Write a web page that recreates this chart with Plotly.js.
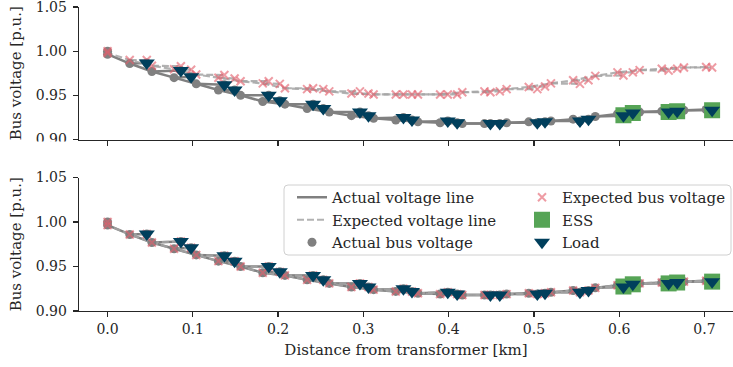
<!DOCTYPE html>
<html><head><meta charset="utf-8">
<script src="https://cdn.plot.ly/plotly-3.0.1.min.js"></script>
<style>html,body{margin:0;padding:0;background:#fff}</style>
</head><body><div id="chart" style="width:733px;height:367px"></div>
<script>
// transformer bus
const trafoX = [0.0];
const trafoV = [1.000];
const trafoExpTop = [1.000];
// main feeder buses
const mainX = [0.000,0.026,0.052,0.078,0.104,0.130,0.156,0.182,0.208,0.234,0.260,0.286,0.312,0.338,0.364,0.390,0.416,0.442,0.468,0.494,0.520,0.546,0.572,0.598,0.624,0.650,0.676,0.702];
const mainActual = [0.9965,0.986,0.977,0.970,0.963,0.956,0.950,0.943,0.940,0.935,0.931,0.927,0.924,0.922,0.920,0.919,0.918,0.918,0.919,0.920,0.921,0.923,0.926,0.929,0.931,0.932,0.933,0.934];
const mainExpTop = [0.998,0.990,0.9835,0.9795,0.9735,0.970,0.966,0.9635,0.958,0.957,0.9545,0.952,0.951,0.951,0.951,0.951,0.9535,0.9545,0.957,0.9595,0.9635,0.967,0.972,0.976,0.9785,0.980,0.9815,0.982];
// load buses (branch from a main bus)
const loadX = [0.046,0.086,0.098,0.137,0.149,0.189,0.202,0.241,0.253,0.296,0.306,0.347,0.357,0.399,0.410,0.449,0.460,0.504,0.513,0.554,0.564,0.605,0.616,0.658,0.668,0.709];
const loadParent = [1,2,3,4,5,6,7,8,9,10,11,12,13,14,15,16,17,18,19,20,21,22,23,24,25,26];
const loadActual = [0.9865,0.978,0.971,0.962,0.956,0.950,0.944,0.940,0.935,0.931,0.927,0.925,0.922,0.921,0.919,0.918,0.918,0.919,0.920,0.921,0.923,0.927,0.930,0.931,0.932,0.933];
const loadExpTop = [0.990,0.983,0.979,0.973,0.969,0.966,0.963,0.958,0.957,0.9545,0.952,0.951,0.951,0.951,0.951,0.9535,0.9545,0.957,0.960,0.963,0.967,0.9725,0.976,0.978,0.980,0.9815];
// ESS buses
const essX = [0.605,0.616,0.658,0.668,0.709];
const essV = [0.9275,0.930,0.931,0.932,0.933];
// bottom panel: expected equals actual
const trafoExpBot = trafoV;
const mainExpBot = mainActual;
const loadExpBot = loadActual;

function lineXY(tV, mV, lV){
  const x = [trafoX[0]].concat(mainX), y = [tV[0]].concat(mV);
  loadX.forEach((lx,i)=>{ const p = loadParent[i]; x.push(null, mainX[p], lx); y.push(null, mV[p], lV[i]); });
  return {x, y};
}
const allX = trafoX.concat(mainX, loadX);
const GRAY = '#808080', NAVY = '#003f5c', GREEN = '#56a456', RED = 'rgba(228,95,108,0.62)';

function panel(ya, tV, mV, lV, tE, mE, lE, leg){
  const xa = ya === 'y' ? 'x' : 'x2';
  const a = lineXY(tV, mV, lV), e = lineXY(tE, mE, lE);
  return [
    {x:a.x, y:a.y, xaxis:xa, yaxis:ya, mode:'lines', line:{color:GRAY, width:2.5}, name:'Actual voltage line', showlegend:leg, legend:'legend', connectgaps:false},
    {x:e.x, y:e.y, xaxis:xa, yaxis:ya, mode:'lines', line:{color:'rgba(165,165,165,0.85)', width:2.2, dash:'7px,3px'}, name:'Expected voltage line', showlegend:leg, legend:'legend', connectgaps:false},
    {x:allX, y:tV.concat(mV, lV), xaxis:xa, yaxis:ya, mode:'markers', marker:{color:GRAY, size:9}, name:'Actual bus voltage', showlegend:leg, legend:'legend'},
    {x:allX, y:tE.concat(mE, lE), xaxis:xa, yaxis:ya, mode:'markers', marker:{symbol:'x-thin-open', size:8, line:{color:RED, width:2}, color:RED}, name:'Expected bus voltage', showlegend:leg, legend:'legend2'},
    {x:essX, y:essV, xaxis:xa, yaxis:ya, mode:'markers', marker:{symbol:'square', size:16, color:GREEN}, name:'ESS', showlegend:leg, legend:'legend2'},
    {x:loadX, y:lV, xaxis:xa, yaxis:ya, mode:'markers', marker:{symbol:'triangle-down', size:14, color:NAVY}, name:'Load', showlegend:leg, legend:'legend2'}
  ];
}
const data = panel('y', trafoV, mainActual, loadActual, trafoExpTop, mainExpTop, loadExpTop, false)
  .concat(panel('y2', trafoV, mainActual, loadActual, trafoExpBot, mainExpBot, loadExpBot, true));

const AX = '#262626';
const xCommon = {range:[-0.0335,0.7335], tickvals:[0,0.1,0.2,0.3,0.4,0.5,0.6,0.7], tickformat:'.1f', showline:true, linecolor:AX, linewidth:1.25, ticks:'outside', ticklen:5, tickwidth:1.25, tickcolor:AX, showgrid:false, zeroline:false, tickfont:{size:14}, ticklabeloverflow:'allow'};
const yCommon = {range:[0.9,1.05], tickvals:[0.9,0.95,1.0,1.05], tickformat:'.2f', showline:true, linecolor:AX, linewidth:1.25, ticks:'outside', ticklen:5, tickwidth:1.25, tickcolor:AX, showgrid:false, zeroline:false, tickfont:{size:14}, ticklabeloverflow:'allow', ticklabelstandoff:3, title:{text:'Bus voltage [p.u.]', font:{size:15}, standoff:10}};
const PL = 79, PW = 654, PT = 7, PH = 304;
const px = v => (v-PL)/PW, py = v => (PT+PH-v)/PH;
const bx0 = px(284), bx1 = px(731), by0 = py(255), by1 = py(185), rx = 4/PW, ry = 4/PH;
const boxPath = `M${bx0+rx},${by0} L${bx1-rx},${by0} Q${bx1},${by0} ${bx1},${by0+ry} L${bx1},${by1-ry} Q${bx1},${by1} ${bx1-rx},${by1} L${bx0+rx},${by1} Q${bx0},${by1} ${bx0},${by1-ry} L${bx0},${by0+ry} Q${bx0},${by0} ${bx0+rx},${by0} Z`;
const layout = {
  width:733, height:367, margin:{l:PL, r:0, t:PT, b:56},
  paper_bgcolor:'#fff', plot_bgcolor:'#fff',
  font:{family:'DejaVu Serif', size:14, color:AX},
  xaxis:Object.assign({}, xCommon, {anchor:'y', showticklabels:false}),
  xaxis2:Object.assign({}, xCommon, {anchor:'y2', title:{text:'Distance from transformer [km]', font:{size:15}, standoff:8}}),
  yaxis:Object.assign({}, yCommon, {domain:[py(139.5),1], anchor:'x'}),
  yaxis2:Object.assign({}, yCommon, {domain:[0,py(177.5)], anchor:'x2'}),
  shapes:[
    {type:'path', xref:'paper', yref:'paper', path:boxPath, fillcolor:'rgba(255,255,255,0.85)', line:{color:'#d0d0d0', width:1}, layer:'above'},
    {type:'rect', xref:'paper', yref:'paper', x0:px(0), x1:px(72), y0:py(160), y1:py(141.5), fillcolor:'#fff', line:{width:0}, layer:'above'}
  ],
  legend:{x:px(292), xanchor:'left', y:py(181), yanchor:'top', bgcolor:'rgba(0,0,0,0)', borderwidth:0, font:{size:15}, tracegroupgap:0},
  legend2:{x:px(522), xanchor:'left', y:py(181), yanchor:'top', bgcolor:'rgba(0,0,0,0)', borderwidth:0, font:{size:15}, tracegroupgap:0},
  showlegend:true
};
Plotly.newPlot('chart', data, layout, {displayModeBar:false, staticPlot:true});
</script></body></html>
